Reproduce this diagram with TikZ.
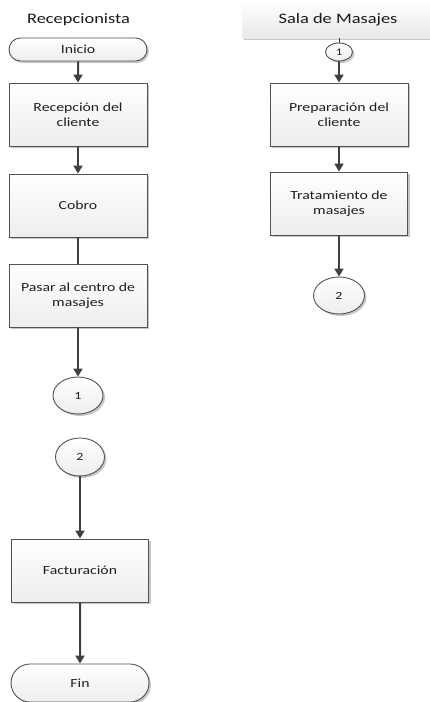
\documentclass[tikz,border=0pt]{standalone}
\usepackage{fontspec}
\setmainfont{Carlito}[FakeStretch=1.27]
\usetikzlibrary{shapes.geometric,shapes.misc,shadows,arrows.meta}

\tikzset{
  shade/.style={drop shadow={shadow xshift=2pt,shadow yshift=-2pt,fill=black!22,opacity=1}},
  proc/.style={draw=black!68,line width=0.9pt,minimum width=138pt,minimum height=63pt,
    top color=white,bottom color=black!7,shade,align=center,inner sep=0pt,
    text=black!88,font=\fontsize{12.4}{15}\selectfont},
  term/.style={rounded rectangle,draw=black!68,line width=0.9pt,minimum width=138pt,
    top color=white,bottom color=black!7,shade,inner sep=0pt,text=black!88,
    font=\fontsize{12.4}{15}\selectfont},
  conn/.style={ellipse,draw=black!68,line width=0.9pt,inner sep=0pt,
    top color=white,bottom color=black!7,shade,text=black!88,
    font=\fontsize{11}{13}\selectfont},
  flow/.style={draw=black!75,line width=2pt,-{Triangle[length=8pt,width=9pt]}},
  plain/.style={draw=black!75,line width=1.6pt},
  lane/.style={font=\fontsize{14.5}{17}\selectfont,text=black!90}
}

\begin{document}
\begin{tikzpicture}[x=1pt,y=-1pt]
  \useasboundingbox (0,0) rectangle (430,702);

  % lane headings
  \shade[top color=white,bottom color=black!9] (242,0) rectangle (430,38);
  \coordinate (bandfoot) at (339,38);
  \node[lane] (hrec) at (78.5,20) {Recepcionista};
  \node[lane] (hsala) at (338,20) {Sala de Masajes};

  % Recepcionista lane
  \node[term,minimum height=23pt] (inicio) at (78,49.5) {Inicio};
  \node[proc] (recep) at (78,114.5) {Recepción del\\cliente};
  \node[proc] (cobro) at (78,205.5) {Cobro};
  \node[proc] (pasar) at (78,295.5) {Pasar al centro de\\masajes};
  \node[conn,minimum width=50pt,minimum height=37pt] (uno) at (78,395.5) {1};
  \node[conn,minimum width=49pt,minimum height=38pt] (dos) at (80,457) {2};
  \node[proc,minimum width=137pt] (fact) at (80,570.5) {Facturación};
  \node[term,minimum height=38pt] (fin) at (80,683) {Fin};

  % Sala de Masajes lane
  \node[conn,minimum width=27pt,minimum height=18pt,font=\fontsize{10}{12}\selectfont] (unob) at (339,52) {1};
  \node[proc] (prep) at (339,114.5) {Preparación del\\cliente};
  \node[proc,minimum width=137pt] (trat) at (339,203.5) {Tratamiento de\\masajes};
  \node[conn,minimum width=51pt,minimum height=37pt] (dosb) at (339,295.5) {2};

  % connectors
  \draw[flow] (inicio) -- (recep);
  \draw[flow] (recep) -- (cobro);
  \draw[plain] (cobro) -- (pasar);
  \draw[flow] (pasar) -- (uno);
  \draw[flow] (dos) -- (fact);
  \draw[flow] (fact) -- (fin);
  \draw[plain,line width=0.8pt] (bandfoot) -- (unob);
  \draw[flow] (unob) -- (prep);
  \draw[flow] (prep) -- (trat);
  \draw[flow] (trat) -- (dosb);
\end{tikzpicture}
\end{document}
